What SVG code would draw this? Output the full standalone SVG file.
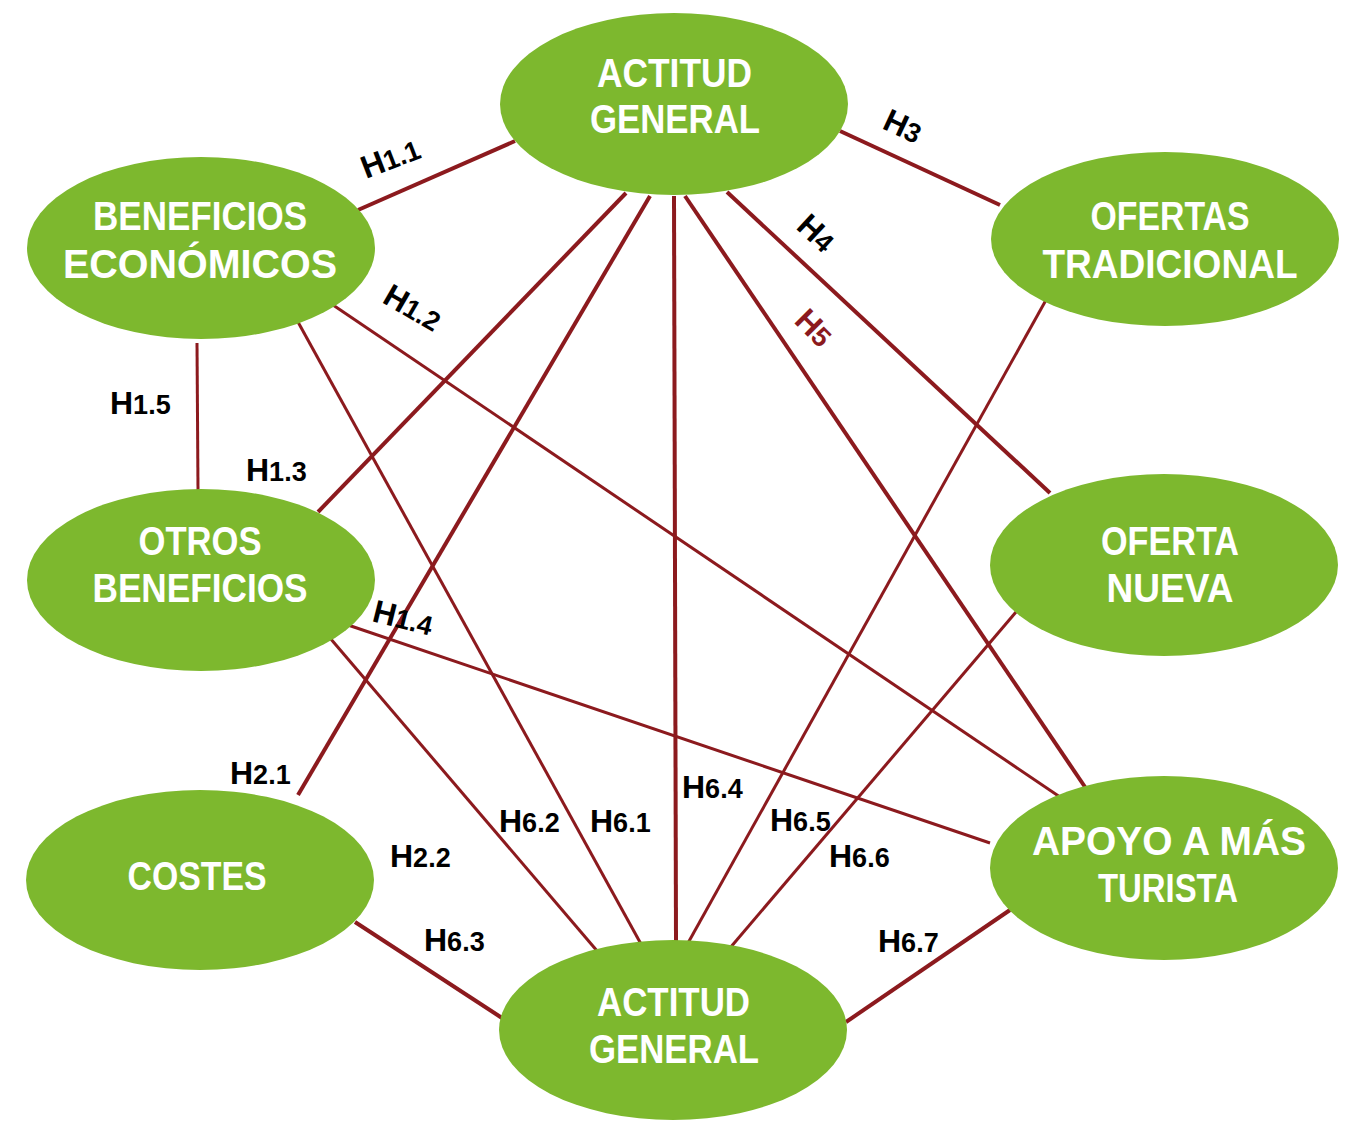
<svg xmlns="http://www.w3.org/2000/svg" width="1348" height="1121" viewBox="0 0 1348 1121">
<style>
.node{fill:#7DB82E}
.nt{font-family:"Liberation Sans",Arial,sans-serif;font-weight:bold;font-size:40px;fill:#fff;text-anchor:middle}
.lk{stroke:#8C1A1E;fill:none;stroke-linecap:butt}
.w4{stroke-width:4}
.w3{stroke-width:3}
.lb{font-family:"Liberation Sans",Arial,sans-serif;font-weight:bold;font-size:32px;fill:#000}
.lb tspan.d{font-size:27px}
.red{fill:#8C1A1E}
</style>
<rect width="1348" height="1121" fill="#fff"/>
<g id="connectors">
<line class="lk w4" x1="358" y1="210" x2="515" y2="141"/>
<line class="lk w4" x1="840" y1="131" x2="1000" y2="205"/>
<line class="lk w4" x1="727" y1="192" x2="1050" y2="493"/>
<line class="lk w4" x1="685" y1="196" x2="1085" y2="787"/>
<line class="lk w4" x1="626" y1="193" x2="318" y2="512"/>
<line class="lk w4" x1="650" y1="196" x2="298" y2="795"/>
<line class="lk w4" x1="674" y1="196" x2="676" y2="942"/>
<line class="lk w3" x1="298" y1="322" x2="641" y2="944"/>
<line class="lk w3" x1="333" y1="305" x2="1060" y2="797"/>
<line class="lk w3" x1="197" y1="343" x2="198" y2="490"/>
<line class="lk w3" x1="348" y1="625" x2="990" y2="843"/>
<line class="lk w3" x1="330" y1="638" x2="598" y2="952"/>
<line class="lk w3" x1="1046" y1="300" x2="688" y2="943"/>
<line class="lk w3" x1="1016" y1="612" x2="730" y2="948"/>
<line class="lk w4" x1="355" y1="922" x2="502" y2="1018"/>
<line class="lk w4" x1="1010" y1="910" x2="846" y2="1022"/>
</g>
<g id="labels">
<text class="lb" transform="translate(366,179) rotate(-21)">H<tspan class="d">1.1</tspan></text>
<text class="lb" transform="translate(881,128) rotate(25)">H<tspan class="d">3</tspan></text>
<text class="lb" transform="translate(795,228) rotate(43)">H<tspan class="d">4</tspan></text>
<text class="lb red" transform="translate(793,322) rotate(45)">H<tspan class="d">5</tspan></text>
<text class="lb" transform="translate(381,302) rotate(30)">H<tspan class="d">1.2</tspan></text>
<text class="lb" transform="translate(371,621) rotate(14)">H<tspan class="d">1.4</tspan></text>
<text class="lb" x="110" y="414">H<tspan class="d">1.5</tspan></text>
<text class="lb" x="246" y="481">H<tspan class="d">1.3</tspan></text>
<text class="lb" x="230" y="784">H<tspan class="d">2.1</tspan></text>
<text class="lb" x="390" y="867">H<tspan class="d">2.2</tspan></text>
<text class="lb" x="424" y="951">H<tspan class="d">6.3</tspan></text>
<text class="lb" x="499" y="832">H<tspan class="d">6.2</tspan></text>
<text class="lb" x="590" y="832">H<tspan class="d">6.1</tspan></text>
<text class="lb" x="682" y="798">H<tspan class="d">6.4</tspan></text>
<text class="lb" x="770" y="831">H<tspan class="d">6.5</tspan></text>
<text class="lb" x="829" y="867">H<tspan class="d">6.6</tspan></text>
<text class="lb" x="878" y="952">H<tspan class="d">6.7</tspan></text>
</g>
<g id="n-actitud-top">
<ellipse class="node" cx="674" cy="104" rx="174" ry="91"/>
<text class="nt" x="674.5" y="87" textLength="155" lengthAdjust="spacingAndGlyphs">ACTITUD</text>
<text class="nt" x="675" y="133" textLength="170" lengthAdjust="spacingAndGlyphs">GENERAL</text>
</g>
<g id="n-beneficios-economicos">
<ellipse class="node" cx="201" cy="248" rx="174" ry="91"/>
<text class="nt" x="200" y="230" textLength="214" lengthAdjust="spacingAndGlyphs">BENEFICIOS</text>
<text class="nt" x="200" y="278" textLength="274" lengthAdjust="spacingAndGlyphs">ECONÓMICOS</text>
</g>
<g id="n-ofertas-tradicional">
<ellipse class="node" cx="1165" cy="239" rx="174" ry="87"/>
<text class="nt" x="1170" y="230" textLength="159" lengthAdjust="spacingAndGlyphs">OFERTAS</text>
<text class="nt" x="1170" y="278" textLength="255" lengthAdjust="spacingAndGlyphs">TRADICIONAL</text>
</g>
<g id="n-otros-beneficios">
<ellipse class="node" cx="201" cy="580" rx="174" ry="91"/>
<text class="nt" x="200" y="555" textLength="123" lengthAdjust="spacingAndGlyphs">OTROS</text>
<text class="nt" x="200" y="602" textLength="215" lengthAdjust="spacingAndGlyphs">BENEFICIOS</text>
</g>
<g id="n-oferta-nueva">
<ellipse class="node" cx="1164" cy="565" rx="174" ry="91"/>
<text class="nt" x="1170" y="555" textLength="138" lengthAdjust="spacingAndGlyphs">OFERTA</text>
<text class="nt" x="1170" y="602" textLength="127" lengthAdjust="spacingAndGlyphs">NUEVA</text>
</g>
<g id="n-costes">
<ellipse class="node" cx="200" cy="880" rx="174" ry="90"/>
<text class="nt" x="197" y="890" textLength="139" lengthAdjust="spacingAndGlyphs">COSTES</text>
</g>
<g id="n-apoyo">
<ellipse class="node" cx="1164" cy="868" rx="174" ry="92"/>
<text class="nt" x="1169" y="855" textLength="274" lengthAdjust="spacingAndGlyphs">APOYO A MÁS</text>
<text class="nt" x="1168" y="902" textLength="140" lengthAdjust="spacingAndGlyphs">TURISTA</text>
</g>
<g id="n-actitud-bottom">
<ellipse class="node" cx="673" cy="1030" rx="174" ry="90"/>
<text class="nt" x="673.5" y="1016" textLength="153" lengthAdjust="spacingAndGlyphs">ACTITUD</text>
<text class="nt" x="674" y="1063" textLength="170" lengthAdjust="spacingAndGlyphs">GENERAL</text>
</g>
</svg>
